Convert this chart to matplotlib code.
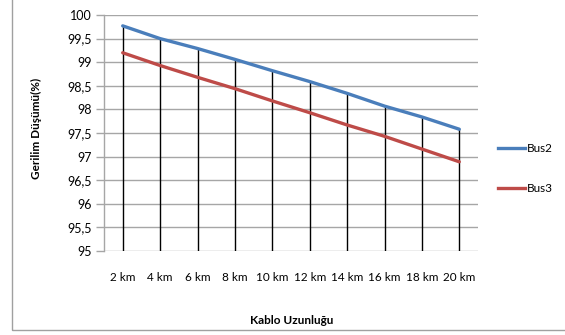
import matplotlib.pyplot as plt
from matplotlib.lines import Line2D
from matplotlib.patches import Rectangle

# kablo uzunluklari ve gerilim dusumu degerleri (%)
kategoriler = ['2 km', '4 km', '6 km', '8 km', '10 km', '12 km', '14 km', '16 km', '18 km', '20 km']
bus2 = [99.77, 99.50, 99.29, 99.06, 98.82, 98.59, 98.34, 98.07, 97.84, 97.58]
bus3 = [99.20, 98.93, 98.68, 98.44, 98.18, 97.93, 97.67, 97.43, 97.16, 96.89]
y_ticks = [95, 95.5, 96, 96.5, 97, 97.5, 98, 98.5, 99, 99.5, 100]

plt.rcParams['font.family'] = ['Lato', 'DejaVu Sans']

W, H = 565, 335
fig = plt.figure(figsize=(W / 100, H / 100), dpi=100)
ax = fig.add_axes([104 / W, 1 - 251 / H, (478 - 104) / W, (251 - 15) / H])

x = list(range(len(kategoriler)))

# yatay kilavuz cizgileri
for yt in y_ticks:
    ax.axhline(yt, color='#a6a6a6', linewidth=1.0, zorder=1)

# seriden eksene inen dikey cizgiler
ax.vlines(x, 95, [max(a, b) for a, b in zip(bus2, bus3)], color='black', linewidth=1.0, zorder=2)

ax.plot(x, bus2, color='#4a7ebb', linewidth=2.4, solid_capstyle='round', zorder=3)
ax.plot(x, bus3, color='#be4b48', linewidth=2.4, solid_capstyle='round', zorder=3)

ax.set_xlim(-0.5, len(kategoriler) - 0.5)
ax.set_ylim(95, 100)
ax.set_yticks(y_ticks)
ax.set_yticklabels([f'{v:g}'.replace('.', ',') for v in y_ticks], fontsize=9)
ax.set_xticks(x)
ax.set_xticklabels(kategoriler, fontsize=8.5)
ax.tick_params(axis='x', length=0, pad=15)
ax.tick_params(axis='y', length=6, color='#a6a6a6', width=1.0, pad=3)

for s in ['top', 'right', 'bottom']:
    ax.spines[s].set_visible(False)
ax.spines['left'].set_color('#a6a6a6')
ax.spines['left'].set_linewidth(1.0)

fig.text(36 / W, 1 - 128 / H, 'Gerilim Düşümü(%)', rotation=90, ha='center', va='center',
         fontsize=8.5, fontweight='bold')
fig.text(292 / W, 1 - 320 / H, 'Kablo Uzunluğu', ha='center', va='center',
         fontsize=8.5, fontweight='bold')

# lejant
for yy, renk, ad in [(148, '#4a7ebb', 'Bus2'), (188, '#be4b48', 'Bus3')]:
    fig.add_artist(Line2D([498 / W, 525 / W], [1 - yy / H, 1 - yy / H], color=renk, linewidth=2.4,
                          transform=fig.transFigure))
    fig.text(527 / W, 1 - yy / H, ad, ha='left', va='center', fontsize=8.5)

# grafik cercevesi
fig.add_artist(Rectangle((12 / W, 1 - 330 / H), (W + 20) / W, 340 / H, fill=False,
                         edgecolor='#a0a0a0', linewidth=1.0, transform=fig.transFigure))

fig.savefig('out.png', dpi=100)
